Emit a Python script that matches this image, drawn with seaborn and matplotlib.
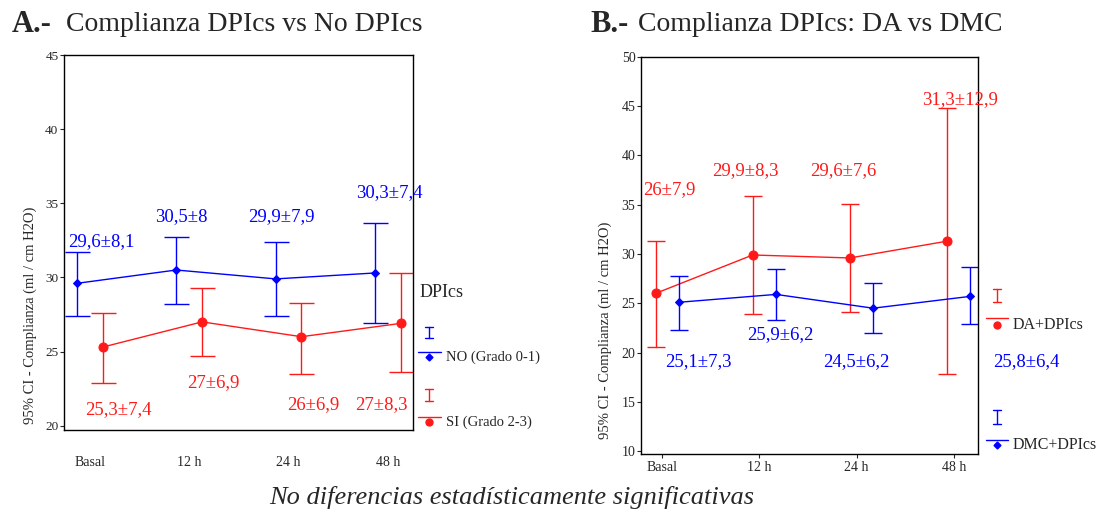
import numpy as np
import matplotlib
matplotlib.use('Agg')
import matplotlib.pyplot as plt
import seaborn as sns

# Data
times = ['Basal', '12 h', '24 h', '48 h']

# Panel A: DPIcs NO vs SI
a_no_mean = [29.6, 30.5, 29.9, 30.3]
a_no_lo = [27.4, 28.2, 27.4, 26.9]
a_no_hi = [31.7, 32.7, 32.4, 33.7]
a_no_txt = ['29,6±8,1', '30,5±8', '29,9±7,9', '30,3±7,4']

a_si_mean = [25.3, 27.0, 26.0, 26.9]
a_si_lo = [22.9, 24.7, 23.5, 23.6]
a_si_hi = [27.6, 29.3, 28.3, 30.3]
a_si_txt = ['25,3±7,4', '27±6,9', '26±6,9', '27±8,3']

# Panel B: DA vs DMC
b_da_mean = [26.0, 29.9, 29.6, 31.3]
b_da_lo = [20.6, 23.9, 24.1, 17.8]
b_da_hi = [31.3, 35.9, 35.1, 44.8]
b_da_txt = ['26±7,9', '29,9±8,3', '29,6±7,6', '31,3±12,9']

b_dmc_mean = [25.1, 25.9, 24.5, 25.7]
b_dmc_lo = [22.3, 23.3, 22.0, 22.9]
b_dmc_hi = [27.8, 28.5, 27.1, 28.7]
b_dmc_txt = ['25,1±7,3', '25,9±6,2', '24,5±6,2', '25,8±6,4']

BLUE = '#0000ff'
RED = '#ff1a1a'

sns.set_style('ticks')
plt.rcParams['font.family'] = ['Liberation Serif', 'DejaVu Serif']

fig = plt.figure(figsize=(10.97, 5.12), dpi=100)
axA = fig.add_axes([0.0583, 0.160, 0.318, 0.7324])
axB = fig.add_axes([0.5843, 0.1133, 0.3072, 0.7754])


def draw_series(ax, mean, lo, hi, offset, color, marker, msize, capsize):
    x = np.arange(len(mean)) + offset
    mean = np.asarray(mean)
    err = [mean - np.asarray(lo), np.asarray(hi) - mean]
    ax.errorbar(x, mean, yerr=err, fmt='none', ecolor=color, elinewidth=1,
                capsize=capsize, capthick=1)
    sns.lineplot(x=x, y=mean, ax=ax, color=color, marker=marker,
                 markersize=msize, markeredgecolor=color, linewidth=1)


def legend_entry(ax, x0, x1, y_icon, y_line, y_mark, label, color, marker, msize, fs):
    xc = (x0 + x1) / 2
    ax.plot([xc, xc], y_icon, color=color, lw=1, transform=ax.transAxes, clip_on=False)
    for yy in y_icon:
        ax.plot([xc - 0.012, xc + 0.012], [yy, yy], color=color, lw=1,
                transform=ax.transAxes, clip_on=False)
    ax.plot([x0, x1], [y_line, y_line], color=color, lw=1,
            transform=ax.transAxes, clip_on=False)
    ax.plot([xc], [y_mark], marker=marker, color=color, markersize=msize,
            transform=ax.transAxes, clip_on=False)
    ax.text(x1 + 0.015, y_mark, label, transform=ax.transAxes, fontsize=fs,
            va='center', ha='left')


# ---- Panel A
draw_series(axA, a_no_mean, a_no_lo, a_no_hi, -0.13, BLUE, 'D', 4.5, 9)
draw_series(axA, a_si_mean, a_si_lo, a_si_hi, 0.13, RED, 'o', 6.5, 9)
axA.set_xlim(-0.26, 3.25)
axA.set_ylim(19.7, 45)
axA.set_yticks([20, 25, 30, 35, 40, 45])
axA.set_xticks(range(len(times)))
axA.set_xticklabels(times, fontsize=10)
axA.tick_params(axis='x', length=0, pad=19)
axA.tick_params(axis='y', labelsize=9.5, length=3, pad=1)
axA.set_ylabel('95% CI - Complianza (ml / cm H2O)', fontsize=10.5)
axA.yaxis.set_label_coords(-0.076, 0.307)

a_no_pos = [(0.12, 32.45), (0.92, 34.07), (1.93, 34.07), (3.01, 35.7)]
a_si_pos = [(0.29, 21.1), (1.24, 22.9), (2.25, 21.4), (2.93, 21.4)]
for t, (x, y) in zip(a_no_txt, a_no_pos):
    axA.text(x, y, t, color=BLUE, fontsize=13.5, ha='center', va='center', clip_on=False)
for t, (x, y) in zip(a_si_txt, a_si_pos):
    axA.text(x, y, t, color=RED, fontsize=13.5, ha='center', va='center', clip_on=False)

axA.text(1.02, 0.368, 'DPIcs', transform=axA.transAxes, fontsize=13,
         ha='left', va='center')
legend_entry(axA, 1.014, 1.080, [0.275, 0.245], 0.208, 0.195,
             'NO (Grado 0-1)', BLUE, 'D', 3.5, 10.5)
legend_entry(axA, 1.014, 1.080, [0.109, 0.077], 0.035, 0.021,
             'SI (Grado 2-3)', RED, 'o', 5, 10.5)

# ---- Panel B
draw_series(axB, b_da_mean, b_da_lo, b_da_hi, -0.07, RED, 'o', 6.5, 6.5)
draw_series(axB, b_dmc_mean, b_dmc_lo, b_dmc_hi, 0.17, BLUE, 'D', 4.5, 6.5)
axB.set_xlim(-0.22, 3.25)
axB.set_ylim(9.7, 50)
axB.set_yticks(range(10, 51, 5))
axB.set_xticks(range(len(times)))
axB.set_xticklabels(times, fontsize=10)
axB.tick_params(axis='x', length=3, pad=2)
axB.tick_params(axis='y', labelsize=10, length=3, pad=1)
axB.set_ylabel('95% CI - Complianza (ml / cm H2O)', fontsize=10.5)
axB.yaxis.set_label_coords(-0.087, 0.312)

b_da_pos = [(0.07, 36.5), (0.86, 38.5), (1.86, 38.5), (3.07, 45.7)]
b_dmc_pos = [(0.37, 19.1), (1.21, 21.8), (2.0, 19.1), (3.75, 19.1)]
for t, (x, y) in zip(b_da_txt, b_da_pos):
    axB.text(x, y, t, color=RED, fontsize=13.5, ha='center', va='center', clip_on=False)
for t, (x, y) in zip(b_dmc_txt, b_dmc_pos):
    axB.text(x, y, t, color=BLUE, fontsize=13.5, ha='center', va='center', clip_on=False)

legend_entry(axB, 1.024, 1.089, [0.416, 0.383], 0.343, 0.325,
             'DA+DPIcs', RED, 'o', 5, 11.5)
legend_entry(axB, 1.024, 1.089, [0.111, 0.076], 0.035, 0.022,
             'DMC+DPIcs', BLUE, 'D', 3.5, 11.5)

for ax in (axA, axB):
    for s in ax.spines.values():
        s.set_visible(True)
        s.set_color('black')
        s.set_linewidth(1)

# Titles
fig.text(0.011, 0.953, 'A.-', fontsize=22, fontweight='bold', va='center')
fig.text(0.060, 0.953, 'Complianza DPIcs vs No DPIcs', fontsize=20, va='center')
fig.text(0.538, 0.953, 'B.-', fontsize=22, fontweight='bold', va='center')
fig.text(0.582, 0.953, 'Complianza DPIcs: DA vs DMC', fontsize=20, va='center')

fig.text(0.466, 0.029, 'No diferencias estadísticamente significativas',
         fontsize=19, style='italic', ha='center', va='center')

plt.savefig('out.png', dpi=100)
